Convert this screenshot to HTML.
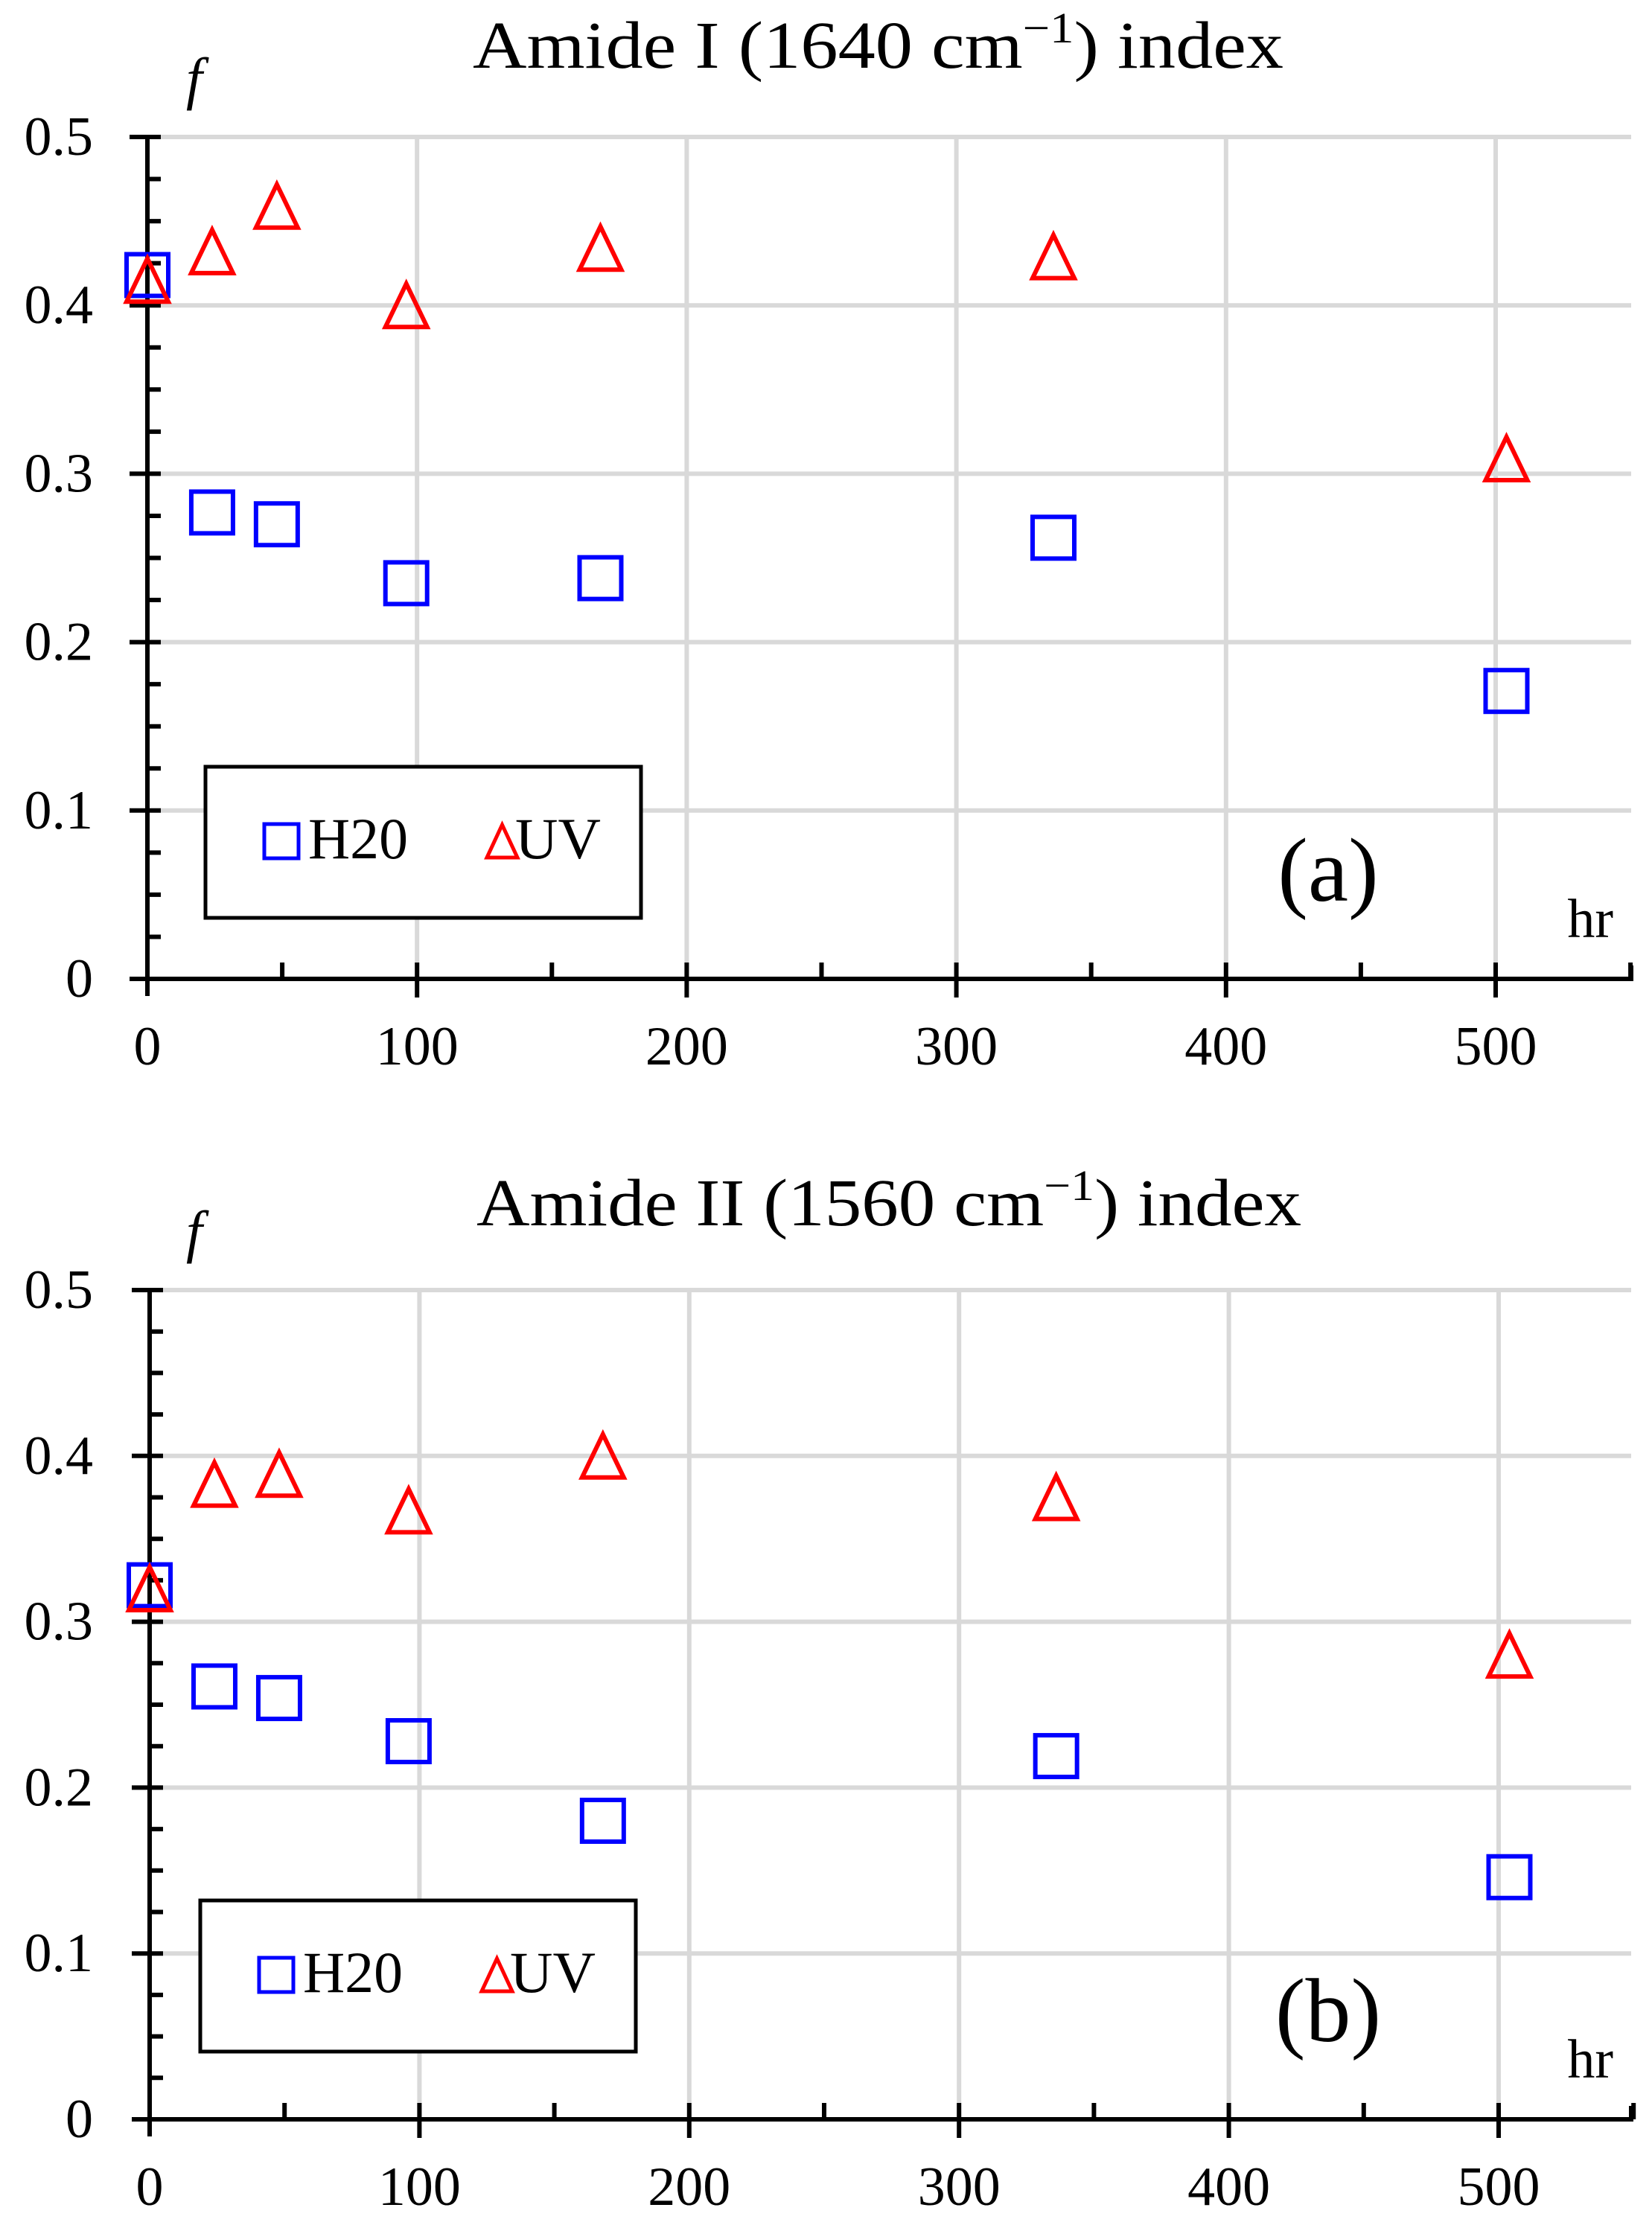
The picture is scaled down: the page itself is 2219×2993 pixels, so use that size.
<!DOCTYPE html>
<html><head><meta charset="utf-8">
<style>
html,body{margin:0;padding:0;background:#fff;}
svg{display:block;}
text{font-family:"Liberation Serif",serif;fill:#000;}
</style></head>
<body>
<svg id="chart" width="2219" height="2993" viewBox="0 0 2219 2993" xmlns="http://www.w3.org/2000/svg"></svg>
<script>
const hours = [0, 24, 48, 96, 168, 336, 504];
const amide1H2O = [0.418, 0.277, 0.270, 0.235, 0.238, 0.262, 0.171];
const amide1UV  = [0.415, 0.432, 0.459, 0.400, 0.434, 0.429, 0.309];
const amide2H2O = [0.322, 0.261, 0.254, 0.228, 0.180, 0.219, 0.146];
const amide2UV  = [0.320, 0.383, 0.389, 0.367, 0.400, 0.375, 0.280];
const xTicks = [0, 100, 200, 300, 400, 500];
const yTicks = [0, 0.1, 0.2, 0.3, 0.4, 0.5];
const yTickLabels = ["0", "0.1", "0.2", "0.3", "0.4", "0.5"];
const seriesNames = ["H20", "UV"];

const NS = "http://www.w3.org/2000/svg";
const svg = document.getElementById("chart");
function el(tag, attrs, parent){
  const e = document.createElementNS(NS, tag);
  for (const k in attrs) e.setAttribute(k, attrs[k]);
  (parent||svg).appendChild(e);
  return e;
}

function drawPanel(cfg){
  const g = el("g", {});
  
  
  const xs = v => cfg.x0 + v * (cfg.x500 - cfg.x0) / 500;
  const ys = v => cfg.y0 - v * (cfg.y0 - cfg.y05) / 0.5;
  const right = 2191;
  // grid
  yTicks.forEach(t => { if (t > 0) {
    const l = el("line", {x1: cfg.x0, x2: right, y1: ys(t), y2: ys(t), stroke: "#d9d9d9", "stroke-width": 6}, g);
    
    
  }});
  xTicks.forEach(t => { if (t > 0) {
    const l = el("line", {x1: xs(t), x2: xs(t), y1: cfg.y05, y2: cfg.y0, stroke: "#d9d9d9", "stroke-width": 6}, g);
    
    
  }});
  // axes
  const ax = el("line", {x1: cfg.x0, x2: cfg.x0, y1: cfg.y05, y2: cfg.y0 + 23, stroke: "#000", "stroke-width": 6}, g);
  
  
  const bx = el("line", {x1: cfg.x0 - 23, x2: right + 3, y1: cfg.y0, y2: cfg.y0, stroke: "#000", "stroke-width": 6}, g);
  
  
  el("line", {x1: right, x2: right, y1: cfg.y0 - 18, y2: cfg.y0 + 3, stroke: "#000", "stroke-width": 6}, g);
  // y ticks
  for (let i = 0; i <= 20; i++) {
    const v = i * 0.025;
    const major = i % 4 === 0;
    el("line", {x1: major ? cfg.x0 - 24 : cfg.x0, x2: cfg.x0 + 18, y1: ys(v), y2: ys(v), stroke: "#000", "stroke-width": 6}, g);
  }
  yTicks.forEach((t, i) => {
    const tx = el("text", {x: 125, y: ys(t) + 24, "text-anchor": "end", "font-size": 74}, g);
    tx.textContent = yTickLabels[i];
    
    
  });
  // x ticks
  for (let v = 50; v <= 550; v += 50) {
    const major = v % 100 === 0;
    el("line", {x1: xs(v), x2: xs(v), y1: cfg.y0 - 22, y2: major ? cfg.y0 + 25 : cfg.y0, stroke: "#000", "stroke-width": 6}, g);
  }
  xTicks.forEach(t => {
    const tx = el("text", {x: xs(t), y: cfg.y0 + 115, "text-anchor": "middle", "font-size": 74}, g);
    tx.textContent = String(t);
    
    
  });
  // title
  const ti = el("text", {x: cfg.titleX, y: cfg.titleY, "font-size": 90, textLength: cfg.titleW, lengthAdjust: "spacingAndGlyphs"}, g);
  
  
  ti.appendChild(document.createTextNode(cfg.title1));
  const sup = el("tspan", {dy: -34, "font-size": 58}, ti); sup.textContent = "\u22121";
  const rest = el("tspan", {dy: 34}, ti); rest.textContent = cfg.title2;
  // f label
  const f = el("text", {x: 250, y: cfg.y05 - 52, "font-size": 78, "font-style": "italic"}, g);
  f.textContent = "f";
  
  
  // hr label
  const hr = el("text", {x: 2167, y: cfg.y0 - 56, "text-anchor": "end", "font-size": 74}, g);
  hr.textContent = "hr";
  
  
  // panel label
  const pl = el("text", {x: 1784, y: cfg.y0 - 105, "text-anchor": "middle", "font-size": 122}, g);
  pl.textContent = cfg.panel;
  
  
  // legend
  const lg = el("g", {}, g);
  
  
  el("rect", {x: cfg.lx, y: cfg.ly, width: 585, height: 203, fill: "#fff", stroke: "#000", "stroke-width": 5}, lg);
  const cy = cfg.ly + 100;
  const ls = el("rect", {x: cfg.lx + 79, y: cy - 23, width: 46, height: 46, fill: "none", stroke: "#0000ff", "stroke-width": 5}, lg);
  
  
  const l1 = el("text", {x: cfg.lx + 138, y: cy + 23, "font-size": 78, textLength: 134, lengthAdjust: "spacingAndGlyphs"}, lg);
  l1.textContent = seriesNames[0];
  
  
  const tx0 = cfg.lx + 378;
  const lt = el("polygon", {points: `${tx0},${cy+22} ${tx0+41},${cy+22} ${tx0+20.5},${cy-22}`, fill: "none", stroke: "#ff0000", "stroke-width": 5}, lg);
  
  
  const l2 = el("text", {x: cfg.lx + 416, y: cy + 23, "font-size": 78, textLength: 115, lengthAdjust: "spacingAndGlyphs"}, lg);
  l2.textContent = seriesNames[1];
  
  
  // points
  hours.forEach((h, i) => {
    const x = xs(h), y = ys(cfg.h2o[i]);
    const r = el("rect", {x: x - 28, y: y - 28, width: 56, height: 56, fill: "none", stroke: "#0000ff", "stroke-width": 6}, g);
    
    
  });
  hours.forEach((h, i) => {
    const x = xs(h), y = ys(cfg.uv[i]);
    const p = el("polygon", {points: `${x-28},${y+29} ${x+28},${y+29} ${x},${y-29}`, fill: "none", stroke: "#ff0000", "stroke-width": 6, "stroke-linejoin": "miter"}, g);
    
    
  });
}

drawPanel({name: "amide-i-panel", x0: 198, x500: 2009, y0: 1315, y05: 184,
  title1: "Amide I  (1640 cm", title2: ") index", titleX: 635, titleY: 91, titleW: 1089,
  panel: "(a)", lx: 276, ly: 1030, h2o: amide1H2O, uv: amide1UV});
drawPanel({name: "amide-ii-panel", x0: 201, x500: 2013, y0: 2847, y05: 1733,
  title1: "Amide II (1560 cm", title2: ")  index", titleX: 640, titleY: 1646, titleW: 1108,
  panel: "(b)", lx: 269, ly: 2553, h2o: amide2H2O, uv: amide2UV});
</script>
</body></html>
